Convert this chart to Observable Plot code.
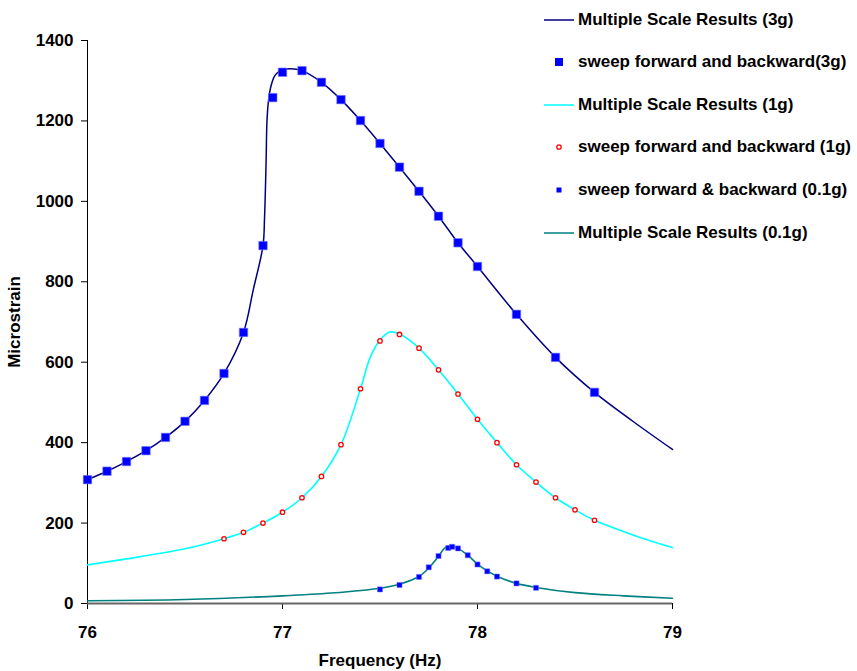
<!DOCTYPE html>
<html>
<head>
<meta charset="utf-8">
<script src="https://cdn.jsdelivr.net/npm/d3@7"></script>
<script src="https://cdn.jsdelivr.net/npm/@observablehq/plot@0.6"></script>
<style>
  body { margin: 0; background: #fff; }
  #wrap { position: relative; width: 857px; height: 671px; font-family: "Liberation Sans", Arial, sans-serif; }
  #legend { position: absolute; left: 544px; top: 0; }
  .row { position: absolute; left: 0; height: 20px; display: flex; align-items: center; white-space: nowrap;
         font-weight: bold; font-size: 17px; color: #000; }
  .row svg { flex: none; margin-right: 4px; }
</style>
</head>
<body>
<div id="wrap">
  <div id="chart"></div>
  <div id="legend"></div>
</div>
<script>
// Axis ticks
const xTicks = [76, 77, 78, 79];
const yTicks = [0, 200, 400, 600, 800, 1000, 1200, 1400];

// Multiple scale solution, 3g excitation
const ms3gFreq = [76.0, 76.1, 76.2, 76.3, 76.4, 76.5, 76.6, 76.7, 76.8, 76.85, 76.9, 76.908, 76.916, 76.92, 76.927,
  76.94, 76.96, 76.98, 77.0, 77.04, 77.1, 77.2, 77.3, 77.4, 77.5, 77.6, 77.7, 77.8, 77.9, 78.0, 78.2, 78.4, 78.6, 78.8, 79.0];
const ms3gStrain = [308, 329, 353, 380, 413, 453, 505, 572, 674, 780, 890, 961, 1102, 1195, 1245,
  1285, 1312, 1322, 1327, 1330, 1325, 1296, 1253, 1201, 1144, 1085, 1025, 963, 897, 838, 719, 612, 525, 452, 383];

// Frequency sweep measurements, 3g
const sweep3gFreq = [76.0, 76.1, 76.2, 76.3, 76.4, 76.5, 76.6, 76.7, 76.8, 76.9, 76.95, 77.0, 77.1, 77.2, 77.3,
  77.4, 77.5, 77.6, 77.7, 77.8, 77.9, 78.0, 78.2, 78.4, 78.6];
const sweep3gStrain = [308, 329, 353, 380, 413, 453, 505, 572, 674, 890, 1258, 1321, 1325, 1296, 1253,
  1201, 1144, 1085, 1025, 963, 897, 838, 719, 612, 525];

// Multiple scale solution, 1g excitation
const ms1gFreq = [76.0, 76.2, 76.5, 76.7, 76.8, 76.9, 77.0, 77.1, 77.2, 77.3, 77.4, 77.45, 77.5, 77.55, 77.6,
  77.7, 77.8, 77.9, 78.0, 78.1, 78.2, 78.3, 78.4, 78.5, 78.6, 78.8, 79.0];
const ms1gStrain = [96, 111, 136, 161, 177, 200, 227, 263, 316, 395, 534, 612, 655, 675, 670,
  635, 581, 521, 458, 400, 345, 302, 263, 233, 207, 170, 139];

// Frequency sweep measurements, 1g
const sweep1gFreq = [76.7, 76.8, 76.9, 77.0, 77.1, 77.2, 77.3, 77.4, 77.5, 77.6, 77.7, 77.8, 77.9, 78.0, 78.1,
  78.2, 78.3, 78.4, 78.5, 78.6];
const sweep1gStrain = [161, 177, 200, 227, 263, 316, 395, 534, 653, 669, 635, 581, 521, 458, 400,
  345, 302, 263, 233, 207];

// Multiple scale solution, 0.1g excitation
const ms01gFreq = [76.0, 76.5, 77.0, 77.25, 77.5, 77.6, 77.7, 77.75, 77.8, 77.83, 77.86, 77.9, 77.95, 78.0, 78.05,
  78.1, 78.2, 78.3, 78.5, 78.75, 79.0];
const ms01gStrain = [7, 10, 19, 26, 38, 48, 67, 88, 117, 137, 144, 137, 120, 98, 81,
  68, 50, 40, 27, 19, 13];

// Frequency sweep measurements, 0.1g
const sweep01gFreq = [77.5, 77.6, 77.7, 77.75, 77.8, 77.85, 77.87, 77.9, 77.95, 78.0, 78.05, 78.1, 78.2, 78.3];
const sweep01gStrain = [35, 46, 66, 90, 118, 138, 141, 137, 120, 97, 80, 67, 50, 39];

const pairs = (fs, vs) => fs.map((f, i) => ({freq: f, strain: vs[i]}));
const ms3g = pairs(ms3gFreq, ms3gStrain);
const sw3g = pairs(sweep3gFreq, sweep3gStrain);
const ms1g = pairs(ms1gFreq, ms1gStrain);
const sw1g = pairs(sweep1gFreq, sweep1gStrain);
const ms01g = pairs(ms01gFreq, ms01gStrain);
const sw01g = pairs(sweep01gFreq, sweep01gStrain);

const NAVY = "#000080", BLUE = "#0000FF", CYAN = "#00FFFF", RED = "#FF0000", TEAL = "#008080";

const chart = Plot.plot({
  width: 857,
  height: 671,
  marginLeft: 87,
  marginRight: 185,
  marginTop: 40,
  marginBottom: 68,
  style: {fontFamily: "'Liberation Sans', Arial, sans-serif", fontSize: "17px", fontWeight: "bold", background: "#fff"},
  x: {domain: [76, 79]},
  y: {domain: [0, 1400]},
  marks: [
    Plot.axisX(xTicks, {tickSize: 6, tickPadding: 16, tickFormat: d => String(d), stroke: "#000", color: "#000",
      label: "Frequency (Hz)", labelAnchor: "center", labelArrow: "none", labelOffset: 62}),
    Plot.axisY(yTicks, {tickSize: 6, tickPadding: 8, tickFormat: d => String(d), stroke: "#000", color: "#000",
      label: "Microstrain", labelAnchor: "center", labelArrow: "none", labelOffset: 80}),
    Plot.ruleX([76], {y1: 0, y2: 1400, stroke: "#000", strokeWidth: 1}),
    Plot.ruleY([0], {x1: 76, x2: 79, stroke: "#666", strokeWidth: 2}),
    Plot.line(ms01g, {x: "freq", y: "strain", stroke: TEAL, strokeWidth: 1.6, curve: "catmull-rom"}),
    Plot.line(ms1g, {x: "freq", y: "strain", stroke: CYAN, strokeWidth: 1.6, curve: "catmull-rom"}),
    Plot.line(ms3g, {x: "freq", y: "strain", stroke: NAVY, strokeWidth: 1.5, curve: "catmull-rom"}),
    Plot.dot(sw3g, {x: "freq", y: "strain", symbol: "square", r: 4.8, fill: BLUE, stroke: "#7f7fff", strokeWidth: 0.6}),
    Plot.dot(sw1g, {x: "freq", y: "strain", r: 2.2, fill: "#fff", stroke: RED, strokeWidth: 1.3}),
    Plot.dot(sw01g, {x: "freq", y: "strain", symbol: "square", r: 2.9, fill: BLUE, stroke: "#7f7fff", strokeWidth: 0.5})
  ]
});
document.getElementById("chart").appendChild(chart);

// Legend to the right of the plot
const legendItems = [
  {label: "Multiple Scale Results (3g)", kind: "line", color: NAVY},
  {label: "sweep forward and backward(3g)", kind: "bigSquare", color: BLUE},
  {label: "Multiple Scale Results (1g)", kind: "line", color: CYAN},
  {label: "sweep forward and backward (1g)", kind: "circle", color: RED},
  {label: "sweep forward & backward (0.1g)", kind: "smallSquare", color: BLUE},
  {label: "Multiple Scale Results (0.1g)", kind: "line", color: TEAL}
];
const legend = d3.select("#legend");
legendItems.forEach((item, i) => {
  const row = legend.append("div").attr("class", "row").style("top", `${9.5 + i * 42.6}px`);
  const svg = row.append("svg").attr("width", 30).attr("height", 20);
  if (item.kind === "line") {
    svg.append("line").attr("x1", 0).attr("x2", 30).attr("y1", 10).attr("y2", 10)
      .attr("stroke", item.color).attr("stroke-width", 1.5);
  } else if (item.kind === "bigSquare") {
    svg.append("rect").attr("x", 11).attr("y", 6).attr("width", 8).attr("height", 8).attr("fill", item.color);
  } else if (item.kind === "smallSquare") {
    svg.append("rect").attr("x", 12.5).attr("y", 7.5).attr("width", 5).attr("height", 5).attr("fill", item.color);
  } else {
    svg.append("circle").attr("cx", 15).attr("cy", 10).attr("r", 2.2)
      .attr("fill", "#fff").attr("stroke", item.color).attr("stroke-width", 1.3);
  }
  row.append("span").text(item.label);
});
</script>
</body>
</html>
